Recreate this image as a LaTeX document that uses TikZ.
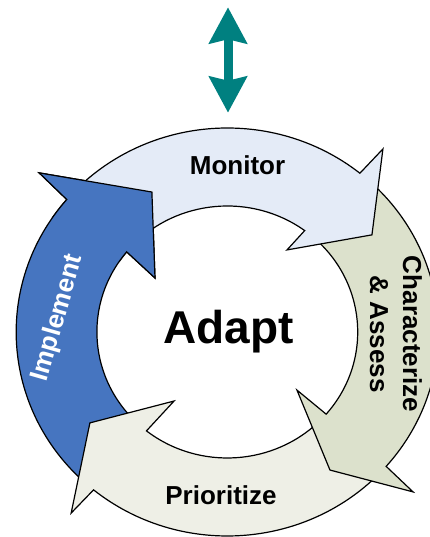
\documentclass[tikz,border=0pt]{standalone}
\usepackage{fontspec}
\setmainfont{Liberation Sans}
\usepackage{tikz}
\usetikzlibrary{arrows.meta}

\definecolor{monitorfill}{RGB}{228,235,247}
\definecolor{assessfill}{RGB}{220,225,204}
\definecolor{priorfill}{RGB}{238,239,230}
\definecolor{implfill}{RGB}{70,117,192}
\definecolor{tealarrow}{RGB}{0,128,128}

\begin{document}
\begin{tikzpicture}[x=1pt,y=1pt,
  steplabel/.style={font=\fontsize{26}{33}\selectfont\bfseries,inner sep=0},
  ringarrow/.style={draw=black,line width=1.2pt,line join=miter},
  updown/.style={tealarrow,line width=9pt,{Stealth[length=36pt,width=37.4pt,inset=4pt]}-{Stealth[length=36pt,width=37.4pt,inset=4pt]}}]
\useasboundingbox (0,0) rectangle (429,537);

% double arrow on top
\coordinate (up) at (228,529.7);
\coordinate (down) at (228,424.3);
\draw[updown] (down) -- (up);

\begin{scope}[shift={(227.3,205)},x=1.035pt,y=1pt]
% Nodes
\coordinate (hub) at (0,0);
%arrows
\filldraw[ringarrow,fill=implfill] (228:204) arc[start angle=228,end angle=139.5,radius=204] -- (138.8:241.6) -- (117.5:157.8) -- (142.3:88.3) -- (140.5:126) arc[start angle=140.5,end angle=228,radius=126] -- cycle;
\filldraw[ringarrow,fill=priorfill] (316:204) arc[start angle=316,end angle=230.7,radius=204] -- (230.2:235.7) -- (214.4:160.9) -- (233.3:86.1) -- (231.7:126) arc[start angle=231.7,end angle=316,radius=126] -- cycle;
\filldraw[ringarrow,fill=assessfill] (49:204) arc[start angle=49,end angle=-41.2,radius=204] -- (-41.7:240.4) -- (-54.3:170) -- (-40.8:88.9) -- (-40.7:126) arc[start angle=-40.7,end angle=49,radius=126] -- cycle;
\filldraw[ringarrow,fill=monitorfill] (137:204) arc[start angle=137,end angle=51.1,radius=204] -- (50.6:236.9) -- (34.8:170.2) -- (54.9:100.3) -- (53.6:126) arc[start angle=53.6,end angle=137,radius=126] -- cycle;
% head of implement again, over the tail of monitor
\begin{scope}
\clip (hub) -- (146:320) -- (100:320) -- cycle;
\filldraw[ringarrow,fill=implfill] (228:204) arc[start angle=228,end angle=139.5,radius=204] -- (138.8:241.6) -- (117.5:157.8) -- (142.3:88.3) -- (140.5:126) arc[start angle=140.5,end angle=228,radius=126] -- cycle;
\end{scope}
\end{scope}

% labels
\node[steplabel,anchor=base] (monitor) at (237.5,362) {Monitor};
\node[steplabel,anchor=base] (prior) at (221,32) {Prioritize};
\node[steplabel,rotate=-90,align=center] (assess) at (396,203) {Characterize\\\& Assess};
\node[steplabel,rotate=74,text=white] (impl) at (58,219) {Implement};
\node[steplabel,anchor=base,font=\fontsize{46}{50}\selectfont\bfseries] (adapt) at (228.5,193) {Adapt};

\end{tikzpicture}
\end{document}
